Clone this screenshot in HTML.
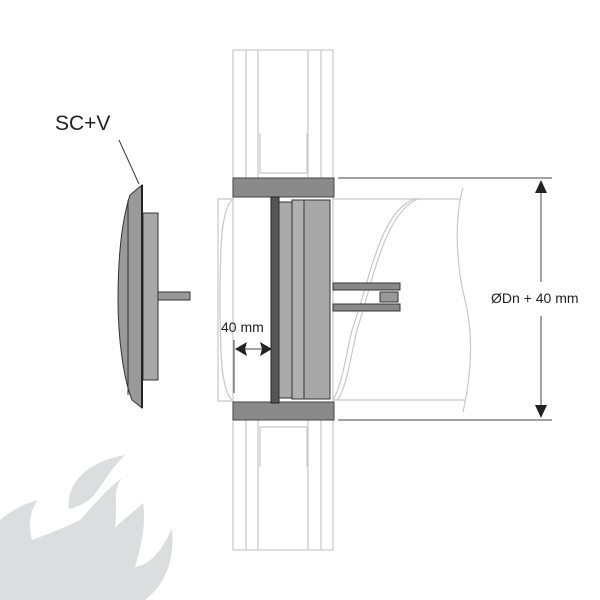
<!DOCTYPE html>
<html><head><style>body{margin:0;background:#fff}svg{display:block}</style></head><body>
<svg width="600" height="600" viewBox="0 0 600 600" xmlns="http://www.w3.org/2000/svg" font-family="Liberation Sans, sans-serif">
<!-- flame -->
<g fill="#dcdddf">
<path d="M0,520 L0,600 L145,600 C165,585 175,560 172,528 C160,555 148,565 135,567 C143,540 146,520 143,503 C130,515 120,522 115,528 C118,505 112,490 122,478 C105,490 90,510 80,520 C60,530 45,535 32,540 C28,525 30,510 38,500 C20,505 10,512 0,520 Z"/>
<path d="M69,509 C66,485 85,462 125,455 C110,470 102,485 94,495 C88,502 80,506 69,509 Z"/>
</g>
<!-- wall -->
<g fill="none" stroke="#c8c8c8" stroke-width="1.2">
<rect x="233" y="50" width="100" height="500"/>
<line x1="246" y1="50" x2="246" y2="178"/><line x1="321" y1="50" x2="321" y2="178"/>
<line x1="258" y1="50" x2="258" y2="178"/><line x1="308" y1="50" x2="308" y2="178"/>
<line x1="246" y1="420" x2="246" y2="550"/><line x1="321" y1="420" x2="321" y2="550"/>
<line x1="258" y1="420" x2="258" y2="550"/><line x1="308" y1="420" x2="308" y2="550"/>
<polyline points="260,133 260,173 307,173 307,133"/>
<polyline points="260,467 260,427 307,427 307,467"/>
<!-- duct -->
<polyline points="233,199 218,199 218,401 233,401"/>
<path d="M232,200 C222,210 220,240 220,300 C220,360 222,390 232,400"/>
<line x1="333" y1="199" x2="460" y2="199"/><line x1="333" y1="400" x2="465" y2="400"/>
<path d="M463,188 C455,215 455,260 465,300 C475,340 470,380 463,412"/>
<path d="M415,199 C380,210 370,280 352,330 C345,360 342,385 333,400"/>
<path d="M418,199 C385,212 373,280 357,330 C350,360 346,390 337,400"/>
</g>
<rect x="233" y="178" width="101" height="19" fill="#8a8a8a" stroke="#444"/>
<rect x="233" y="402" width="101" height="18" fill="#8a8a8a" stroke="#444"/>
<!-- dims -->
<g stroke="#444" stroke-width="1">
<line x1="338" y1="178" x2="552" y2="178"/><line x1="338" y1="420" x2="552" y2="420"/>
<line x1="541" y1="190" x2="541" y2="282"/><line x1="541" y1="316" x2="541" y2="408"/>
<line x1="234" y1="340" x2="234" y2="393"/><line x1="240" y1="349" x2="266" y2="349"/>
</g>
<polygon points="541,180 535,193 547,193" fill="#222"/>
<polygon points="541,418 535,405 547,405" fill="#222"/>
<polygon points="235,349 247,342 245,349 247,356" fill="#222"/>
<polygon points="272,349 260,342 262,349 260,356" fill="#222"/>
<text x="491" y="303" font-size="14" fill="#222">ØDn + 40 mm</text>
<text x="221" y="332" font-size="14" fill="#222">40 mm</text>
<!-- device -->
<rect x="333" y="283" width="67" height="7" fill="#888" stroke="#333"/>
<rect x="333" y="304" width="67" height="7" fill="#888" stroke="#333"/>
<rect x="380" y="292" width="18" height="10" fill="#999" stroke="#333"/>
<rect x="271" y="197" width="8" height="206" fill="#555" stroke="#222"/>
<rect x="279" y="202" width="13" height="196" fill="#aaa" stroke="#333"/>
<rect x="292" y="200" width="12" height="199" fill="#b0b0b0" stroke="#333"/>
<rect x="304" y="200" width="26" height="199" fill="#a8a8a8" stroke="#333"/>
<!-- SC+V -->
<text x="55" y="130" font-size="21" fill="#222">SC+V</text>
<line x1="119" y1="140" x2="139" y2="184" stroke="#333"/>
<rect x="157" y="292" width="33" height="8" fill="#999" stroke="#333"/>
<rect x="143" y="213" width="15" height="167" fill="#a8a8a8" stroke="#333"/>
<path d="M142,185 L142,408 L132,400 C124,380 118,340 118,300 C118,255 122,220 130,195 Z" fill="#999" stroke="#333"/>
<line x1="128" y1="200" x2="128" y2="395" stroke="#333"/>
<line x1="142" y1="185" x2="142" y2="408" stroke="#222" stroke-width="2"/>
</svg>
</body></html>
